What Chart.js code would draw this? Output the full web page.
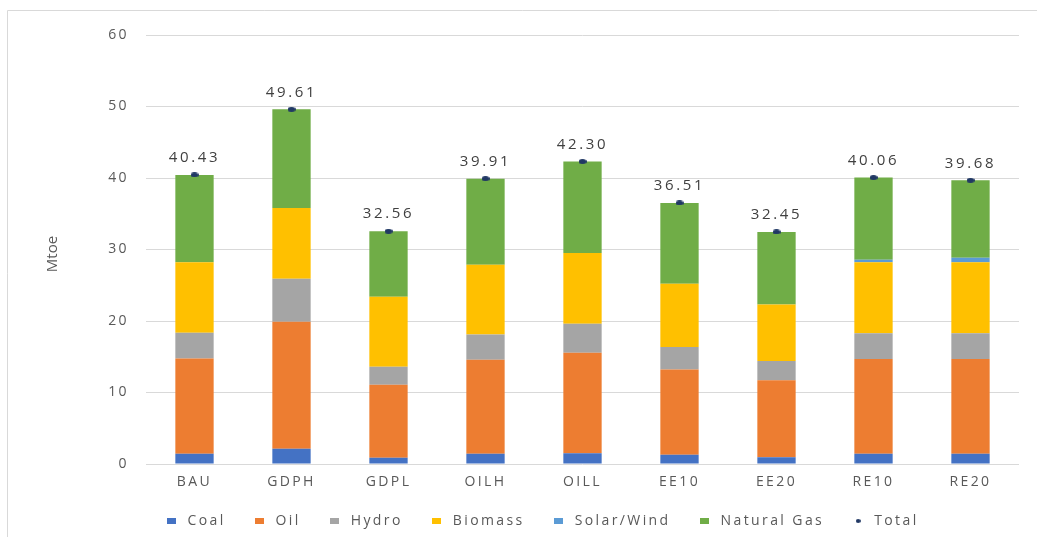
<!DOCTYPE html>
<html>
<head>
<meta charset="utf-8">
<script src="https://cdn.jsdelivr.net/npm/chart.js@4/dist/chart.umd.min.js"></script>
<style>
  html, body { margin: 0; padding: 0; background: #ffffff; }
  #wrap { position: relative; width: 1037px; height: 537px; }
</style>
</head>
<body>
<div id="wrap"><canvas id="c" width="1037" height="537"></canvas></div>
<script>
// Scenario categories
const categories = ['BAU', 'GDPH', 'GDPL', 'OILH', 'OILL', 'EE10', 'EE20', 'RE10', 'RE20'];

// Primary energy supply by source (Mtoe)
const coal       = [1.43, 2.13, 0.87, 1.43, 1.50, 1.28, 0.95, 1.43, 1.43];
const oil        = [13.33, 17.77, 10.23, 13.14, 14.05, 11.92, 10.75, 13.27, 13.27];
const hydro      = [3.59, 6.00, 2.50, 3.53, 4.05, 3.15, 2.70, 3.60, 3.60];
const biomass    = [9.85, 9.90, 9.80, 9.75, 9.90, 8.85, 7.90, 9.90, 9.90];
const solarWind  = [0, 0, 0, 0, 0, 0, 0, 0.35, 0.65];
const naturalGas = [12.23, 13.81, 9.16, 12.06, 12.80, 11.31, 10.15, 11.51, 10.83];
const total      = [40.43, 49.61, 32.56, 39.91, 42.30, 36.51, 32.45, 40.06, 39.68];

const textGray = '#595959';
const gridGray = '#d9d9d9';
const FONT = "'Open Sans', 'Segoe UI', sans-serif";
const SPACING = '2.4px';

// Small marker images (wide rectangles and flattened dots)
function rectMarker(color, w, h) {
  const c = document.createElement('canvas');
  c.width = w; c.height = h;
  const g = c.getContext('2d');
  g.fillStyle = color;
  g.fillRect(0, 0, w, h);
  return c;
}
function dotMarker(color, w, h) {
  const c = document.createElement('canvas');
  c.width = w; c.height = h;
  const g = c.getContext('2d');
  g.fillStyle = color;
  g.beginPath();
  g.ellipse(w / 2, h / 2, w / 2, h / 2, 0, 0, Math.PI * 2);
  g.fill();
  return c;
}

// Wide lettering for all chart text
const spacingPlugin = {
  id: 'spacing',
  beforeLayout(chart) { chart.ctx.letterSpacing = SPACING; },
  beforeDraw(chart) { chart.ctx.letterSpacing = SPACING; }
};

// Frame around the chart (left and top edges visible) and the y-axis title
const framePlugin = {
  id: 'frame',
  beforeDraw(chart) {
    const ctx = chart.ctx;
    ctx.save();
    ctx.strokeStyle = gridGray;
    ctx.lineWidth = 1;
    ctx.beginPath();
    ctx.moveTo(7.5, chart.height);
    ctx.lineTo(7.5, 10.5);
    ctx.lineTo(chart.width, 10.5);
    ctx.stroke();

    ctx.letterSpacing = '0px';
    ctx.translate(53, 254);
    ctx.rotate(-Math.PI / 2);
    ctx.font = "15px " + FONT;
    ctx.fillStyle = textGray;
    ctx.textAlign = 'center';
    ctx.textBaseline = 'middle';
    ctx.fillText('Mtoe', 0, 0);
    ctx.restore();
  }
};

// Value labels above the Total markers
const totalLabels = {
  id: 'totalLabels',
  afterDatasetsDraw(chart) {
    const idx = chart.data.datasets.findIndex(d => d.label === 'Total');
    const meta = chart.getDatasetMeta(idx);
    const ctx = chart.ctx;
    ctx.save();
    ctx.letterSpacing = '2.7px';
    ctx.font = "15px " + FONT;
    ctx.fillStyle = '#404040';
    ctx.textAlign = 'center';
    ctx.textBaseline = 'middle';
    meta.data.forEach((pt, i) => {
      ctx.fillText(total[i].toFixed(2), pt.x, pt.y - 17);
    });
    ctx.restore();
  }
};

// Place the legend row under the plot
const legendPlacement = {
  id: 'legendPlacement',
  afterLayout(chart) {
    const lg = chart.legend;
    if (!lg) return;
    const shiftX = 27;
    lg.left += shiftX;
    lg.right += shiftX;
    lg.top = 521 - lg.options.labels.padding - 7;
  }
};

const ds = (label, data, color) => ({
  type: 'bar', label, data, backgroundColor: color, borderWidth: 0,
  stack: 'energy', categoryPercentage: 1, barPercentage: 0.395,
  pointStyle: rectMarker(color, 9, 6), order: 2
});

new Chart(document.getElementById('c'), {
  data: {
    labels: categories,
    datasets: [
      ds('Coal', coal, '#4472C4'),
      ds('Oil', oil, '#ED7D31'),
      ds('Hydro', hydro, '#A5A5A5'),
      ds('Biomass', biomass, '#FFC000'),
      ds('Solar/Wind', solarWind, '#5B9BD5'),
      ds('Natural Gas', naturalGas, '#70AD47'),
      {
        type: 'line', label: 'Total', data: total, stack: 'total',
        showLine: false, pointStyle: dotMarker('#203864', 8, 5), pointRadius: 4,
        backgroundColor: '#203864', borderColor: '#203864', borderWidth: 0,
        order: 1
      }
    ]
  },
  options: {
    responsive: false,
    animation: false,
    events: [],
    layout: { padding: { left: 8, right: 18, top: 35, bottom: 0 } },
    scales: {
      x: {
        stacked: true,
        grid: { display: false },
        border: { display: false },
        ticks: { color: textGray, font: { family: FONT, size: 14 }, padding: 2 },
        afterFit(scale) { scale.height = 33; }
      },
      y: {
        stacked: true,
        min: 0, max: 60,
        ticks: { stepSize: 10, color: textGray, font: { family: FONT, size: 14 }, padding: 17 },
        grid: { color: gridGray, lineWidth: 1, drawTicks: false },
        border: { display: false },
        afterFit(scale) { scale.width = 138; }
      }
    },
    plugins: {
      legend: {
        position: 'bottom',
        maxHeight: 40,
        labels: {
          usePointStyle: true,
          pointStyleWidth: 18,
          boxWidth: 14, boxHeight: 14,
          padding: 25,
          color: textGray,
          font: { family: FONT, size: 14 },
          sort: (a, b) => a.datasetIndex - b.datasetIndex,
          generateLabels(chart) {
            const items = Chart.defaults.plugins.legend.labels.generateLabels(chart);
            items.forEach(it => {
              if (it.text === 'Total') it.pointStyle = dotMarker('#203864', 5, 4);
            });
            return items;
          }
        }
      },
      tooltip: { enabled: false }
    }
  },
  plugins: [spacingPlugin, framePlugin, totalLabels, legendPlacement]
});
</script>
</body>
</html>
